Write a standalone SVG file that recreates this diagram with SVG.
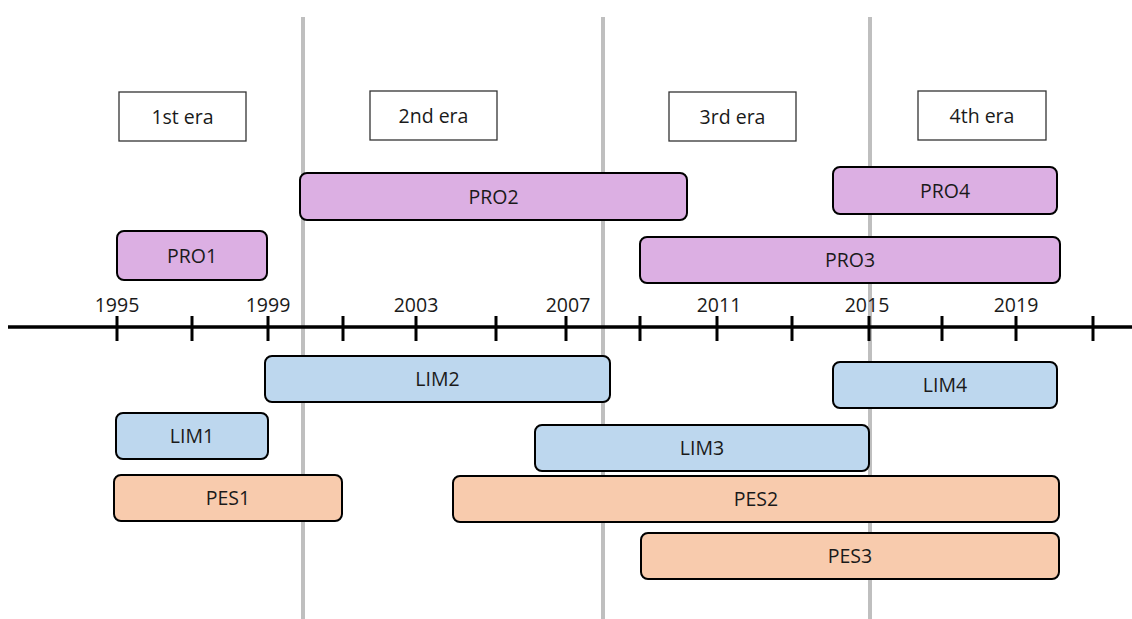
<svg xmlns="http://www.w3.org/2000/svg" width="1132" height="619" viewBox="0 0 1132 619">
<style>
text{font-family:"Open Sans","Liberation Sans",sans-serif;font-size:19.5px;fill:#1a1a1a;text-anchor:middle}
.era{fill:#fff;stroke:#333;stroke-width:1.3}
.bar{stroke:#000;stroke-width:2}
.pro{fill:#dcafe3}
.lim{fill:#bdd7ee}
.pes{fill:#f8cbad}
.grid{stroke:#bfbfbf;stroke-width:4}
.tick{stroke:#000;stroke-width:3}
</style>
<rect width="1132" height="619" fill="#fff"/>
<g id="dividers">
<line class="grid" x1="303" y1="17" x2="303" y2="619"/>
<line class="grid" x1="603" y1="17" x2="603" y2="619"/>
<line class="grid" x1="870" y1="17" x2="870" y2="619"/>
</g>
<g id="axis">
<line x1="8" y1="327" x2="1132" y2="327" stroke="#000" stroke-width="3.5"/>
<line class="tick" x1="117" y1="316" x2="117" y2="341"/>
<line class="tick" x1="192" y1="316" x2="192" y2="341"/>
<line class="tick" x1="268" y1="316" x2="268" y2="341"/>
<line class="tick" x1="343" y1="316" x2="343" y2="341"/>
<line class="tick" x1="416" y1="316" x2="416" y2="341"/>
<line class="tick" x1="496" y1="316" x2="496" y2="341"/>
<line class="tick" x1="566" y1="316" x2="566" y2="341"/>
<line class="tick" x1="640" y1="316" x2="640" y2="341"/>
<line class="tick" x1="717" y1="316" x2="717" y2="341"/>
<line class="tick" x1="792" y1="316" x2="792" y2="341"/>
<line class="tick" x1="869" y1="316" x2="869" y2="341"/>
<line class="tick" x1="942" y1="316" x2="942" y2="341"/>
<line class="tick" x1="1016" y1="316" x2="1016" y2="341"/>
<line class="tick" x1="1093" y1="316" x2="1093" y2="341"/>
<text x="117" y="312">1995</text>
<text x="268" y="312">1999</text>
<text x="416" y="312">2003</text>
<text x="568" y="312">2007</text>
<text x="719" y="312">2011</text>
<text x="867" y="312">2015</text>
<text x="1016" y="312">2019</text>
</g>
<g id="era1"><rect class="era" x="119" y="92" width="127" height="49"/><text x="182.5" y="124">1st era</text></g>
<g id="era2"><rect class="era" x="370" y="91" width="127" height="49"/><text x="433.5" y="123">2nd era</text></g>
<g id="era3"><rect class="era" x="669" y="92" width="127" height="49"/><text x="732.5" y="124">3rd era</text></g>
<g id="era4"><rect class="era" x="918" y="91" width="128" height="49"/><text x="982" y="123">4th era</text></g>
<g id="PRO1"><rect class="bar pro" x="117" y="231" width="150" height="49" rx="7"/><text x="192" y="262.5">PRO1</text></g>
<g id="PRO2"><rect class="bar pro" x="300" y="173" width="387" height="47" rx="7"/><text x="493.5" y="203.5">PRO2</text></g>
<g id="PRO3"><rect class="bar pro" x="640" y="237" width="420" height="46" rx="7"/><text x="850" y="267">PRO3</text></g>
<g id="PRO4"><rect class="bar pro" x="833" y="167" width="224" height="47" rx="7"/><text x="945" y="197.5">PRO4</text></g>
<g id="LIM1"><rect class="bar lim" x="116" y="413" width="152" height="46" rx="7"/><text x="192" y="443">LIM1</text></g>
<g id="LIM2"><rect class="bar lim" x="265" y="356" width="345" height="46" rx="7"/><text x="437.5" y="386">LIM2</text></g>
<g id="LIM3"><rect class="bar lim" x="535" y="425" width="334" height="46" rx="7"/><text x="702" y="455">LIM3</text></g>
<g id="LIM4"><rect class="bar lim" x="833" y="362" width="224" height="46" rx="7"/><text x="945" y="392">LIM4</text></g>
<g id="PES1"><rect class="bar pes" x="114" y="475" width="228" height="46" rx="7"/><text x="228" y="505">PES1</text></g>
<g id="PES2"><rect class="bar pes" x="453" y="476" width="606" height="46" rx="7"/><text x="756" y="506">PES2</text></g>
<g id="PES3"><rect class="bar pes" x="641" y="533" width="418" height="46" rx="7"/><text x="850" y="563">PES3</text></g>
<g id="connectors"/>
</svg>
